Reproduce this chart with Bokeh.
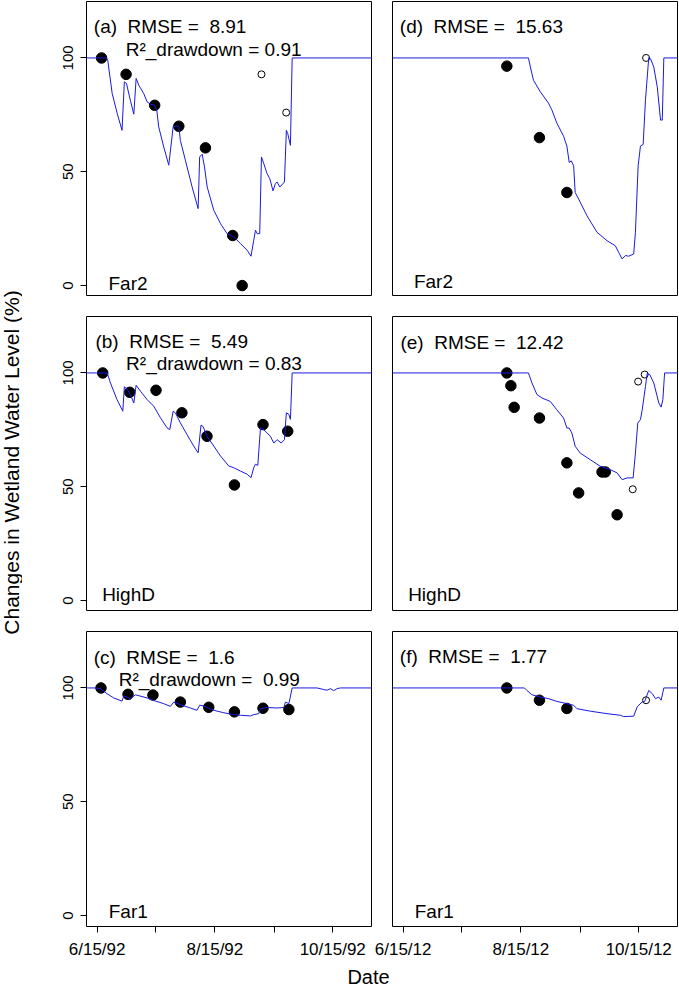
import math
from bokeh.plotting import figure
from bokeh.models import Range1d, FixedTicker, Label
from bokeh.layouts import column, row
from bokeh.embed import file_html
from bokeh.resources import INLINE

# x values: days since June 15 of the season year (1992 left column, 2012 right column)
tick_days = [0, 30, 61, 92, 122]
tick_labels_1992 = ["6/15/92", "", "8/15/92", "", "10/15/92"]
tick_labels_2012 = ["6/15/12", "", "8/15/12", "", "10/15/12"]
y_ticks = [0, 50, 100]

# ---- (a) Far2 1992
a_line_d = [-5.5, 4.8, 5.5, 7.8, 10.4, 12.9, 14.1, 15.2, 17.2, 19.0, 20.2, 21.6, 24.1, 25.9, 27.6, 29.8, 30.9,
            31.9, 34.5, 37.1, 39.4, 42.3, 43.1, 45.7, 49.2, 52.3, 53.1, 54.4, 55.6, 57.0, 60.4, 63.9, 67.3, 70.7,
            74.2, 77.7, 79.7, 81.1, 82.0, 82.9, 84.2, 85.1, 86.3, 88.0, 89.4, 91.1, 92.3, 93.2, 94.6, 97.0, 98.0,
            98.7, 100.1, 101.0, 142.6]
a_line_v = [100, 100, 99, 84.4, 75.6, 68.2, 89.5, 88.8, 81.4, 75.3, 91.0, 88.0, 84.4, 80.7, 79.7, 79.2, 77.0,
            69.7, 60.9, 52.9, 70.0, 70.0, 63.8, 55.1, 43.3, 33.8, 56.5, 57.7, 52.1, 43.3, 33.1, 27.2, 22.8, 21.4,
            18.5, 15.5, 12.9, 19.9, 24.3, 22.8, 22.8, 56.5, 53.6, 49.2, 47.0, 41.6, 44.8, 45.5, 43.3, 45.5, 68.2,
            66.8, 61.6, 100, 100]
a_obs_d = [2.3, 15.0, 29.8, 42.3, 56.1, 70.2, 75.1]
a_obs_v = [100, 92.8, 79.2, 70.0, 60.5, 22.0, 0]
a_open_d = [85.1, 97.9]
a_open_v = [92.8, 76.0]

# ---- (b) HighD 1992
b_line_d = [-5.5, 5.2, 6.9, 10.3, 13.3, 14.1, 15.5, 17.2, 19.0, 20.2, 22.4, 25.9, 29.3, 32.8, 36.2, 37.6, 39.4,
            40.5, 43.1, 46.5, 50.0, 52.3, 53.8, 54.9, 56.9, 60.4, 63.9, 68.2, 70.7, 74.2, 77.7, 79.7, 81.1, 82.0,
            83.2, 84.6, 86.3, 89.7, 91.5, 93.2, 95.3, 97.0, 98.0, 99.3, 100.1, 101.0, 142.6]
b_line_v = [100, 100, 95.6, 88.3, 83.2, 93.9, 93.0, 90.5, 86.8, 94.6, 92.0, 88.3, 85.4, 80.3, 75.9, 75.1, 83.2,
            82.5, 78.1, 73.0, 67.9, 64.9, 77.1, 76.4, 72.2, 67.9, 63.5, 59.1, 58.4, 56.9, 55.5, 54.0, 58.4, 59.9,
            59.4, 75.9, 75.1, 72.2, 69.2, 70.7, 69.2, 70.7, 82.5, 81.8, 79.6, 100, 100]
b_obs_d = [2.9, 16.9, 30.5, 43.9, 56.9, 71.1, 85.9, 98.7]
b_obs_v = [100, 91.5, 92.4, 82.5, 72.2, 50.8, 77.3, 74.4]
b_open_d = []
b_open_v = []

# ---- (c) Far1 1992
c_line_d = [-5.5, -0.9, 1.7, 5.1, 8.6, 12.9, 13.8, 15.2, 17.2, 19.8, 25.9, 29.3, 34.5, 37.9, 39.7, 43.9, 48.3,
            51.7, 53.1, 55.2, 60.4, 65.6, 70.7, 74.2, 79.4, 81.1, 83.7, 84.6, 88.0, 93.2, 96.7, 97.5, 99.3, 101.0,
            113.9, 117.4, 119.1, 120.8, 122.5, 124.3, 126.0, 142.6]
c_line_v = [100, 100, 99.7, 97.5, 95.6, 94.2, 96.5, 96.1, 95.1, 97.0, 95.6, 94.5, 93.1, 91.9, 93.8, 92.4, 91.2,
            90.2, 92.4, 92.1, 90.2, 89.1, 88.3, 88.0, 87.7, 88.3, 88.7, 90.9, 91.4, 91.2, 91.4, 93.8, 93.1, 100,
            100, 99.3, 99.0, 99.7, 98.8, 99.7, 100, 100]
c_obs_d = [2.0, 16.0, 28.9, 43.1, 57.8, 71.1, 85.9, 99.3]
c_obs_v = [100, 97.2, 96.9, 93.8, 91.5, 89.5, 91.1, 90.5]
c_open_d = []
c_open_v = []

# ---- (d) Far2 2012
d_line_d = [-5.5, 64.9, 65.9, 67.5, 71.0, 75.3, 77.0, 79.6, 83.1, 84.8, 86.0, 87.1, 88.3, 89.1, 90.9, 95.2, 100.4,
            105.6, 109.9, 111.6, 113.4, 115.1, 116.8, 119.4, 120.3, 121.7, 122.9, 124.3, 125.5, 127.2, 128.1,
            129.8, 131.6, 133.3, 134.2, 135.0, 142.6]
d_line_v = [100, 100, 96.0, 90.2, 85.2, 80.1, 77.2, 71.4, 65.6, 61.3, 54.1, 54.8, 52.6, 40.9, 38.0, 30.7, 23.4,
            19.7, 17.5, 14.6, 11.7, 13.2, 12.9, 13.9, 23.4, 52.6, 61.3, 62.0, 81.6, 100.1, 99.7, 96.0, 87.3, 72.7,
            72.7, 100, 100]
d_obs_d = [53.7, 70.6, 84.8]
d_obs_v = [96.4, 65.0, 40.9]
d_open_d = [125.8]
d_open_v = [100]

# ---- (e) HighD 2012
e_line_d = [-5.5, 64.9, 66.7, 69.3, 71.9, 76.2, 79.6, 83.1, 84.8, 86.0, 87.4, 89.1, 91.7, 96.9, 102.1, 107.3,
            110.8, 113.4, 116.0, 119.1, 120.3, 121.5, 122.9, 123.8, 125.5, 126.4, 127.7, 129.8, 132.4, 133.6,
            134.5, 135.4, 142.6]
e_line_v = [100, 100, 95.6, 90.5, 89.0, 87.5, 83.8, 80.2, 75.8, 75.8, 73.6, 67.8, 64.8, 61.9, 59.0, 57.5, 56.1,
            53.1, 53.9, 53.9, 64.8, 78.0, 79.5, 83.8, 94.1, 99.7, 99.3, 95.6, 86.8, 85.0, 88.3, 100, 100]
e_obs_d = [53.7, 55.8, 57.5, 70.6, 84.8, 90.9, 103.0, 104.7, 110.8]
e_obs_v = [100, 94.4, 84.9, 80.2, 60.5, 47.3, 56.5, 56.5, 37.7]
e_open_d = [118.9, 121.7, 125.1]
e_open_v = [48.9, 96.2, 99.3]

# ---- (f) Far1 2012
f_line_d = [-5.5, 62.8, 64.1, 66.7, 71.0, 75.3, 79.6, 84.8, 88.3, 90.0, 96.9, 105.6, 112.5, 114.2, 119.4, 121.2,
            123.8, 125.0, 127.2, 129.0, 130.7, 132.4, 133.6, 135.0, 142.6]
f_line_v = [100, 100, 98.9, 97.0, 96.0, 95.3, 94.1, 93.1, 92.4, 90.9, 89.8, 88.7, 88.0, 87.4, 87.6, 91.7, 93.9,
            93.9, 98.9, 97.5, 95.3, 96.0, 94.6, 100, 100]
f_obs_d = [53.7, 70.6, 84.8]
f_obs_v = [100, 94.6, 91.0]
f_open_d = [125.8]
f_open_v = [94.6]

# panel texts (a no-break space keeps R's double spacing visible)
NB = "\u00a0"
rmse_texts = ["(a)" + NB + " RMSE =" + NB + " 8.91", "(b)" + NB + " RMSE =" + NB + " 5.49",
              "(c)" + NB + " RMSE =" + NB + " 1.6", "(d)" + NB + " RMSE =" + NB + " 15.63",
              "(e)" + NB + " RMSE =" + NB + " 12.42", "(f)" + NB + " RMSE =" + NB + " 1.77"]
r2_texts = ["R\u00b2_drawdown = 0.91", "R\u00b2_drawdown = 0.83", "R\u00b2_drawdown =" + NB + " 0.99",
            None, None, None]
site_names = ["Far2", "HighD", "Far1", "Far2", "HighD", "Far1"]
y_title = "Changes in Wetland Water Level (%)"
x_title = "Date"

FONT = "Liberation Sans"
FW, FH = 286, 295
YLAB_W = 22
LEFT_BORDER = 64
GAP = 20
BOTTOM_BORDER = 34


def make_panel(idx, line_d, line_v, obs_d, obs_v, open_d, open_v, col, rw):
    left = col == 0
    bottom = rw == 2
    p = figure(frame_width=FW, frame_height=FH,
               x_range=Range1d(-5.5, 142.6), y_range=Range1d(-4.8, 124.8),
               output_backend="svg", toolbar_location=None,
               x_axis_location="below" if bottom else None,
               y_axis_location="left" if left else None,
               min_border_left=LEFT_BORDER if left else GAP,
               min_border_right=0,
               min_border_top=1 if rw == 0 else GAP,
               min_border_bottom=BOTTOM_BORDER if bottom else 0)
    p.xgrid.visible = False
    p.ygrid.visible = False
    p.outline_line_color = "black"
    p.outline_line_width = 1
    p.outline_line_alpha = 1.0
    p.background_fill_color = "white"
    p.border_fill_color = "white"

    if left:
        ax = p.yaxis[0]
        ax.ticker = FixedTicker(ticks=y_ticks)
        ax.major_label_orientation = "vertical"
        ax.major_label_text_font = FONT
        ax.major_label_text_font_size = "15px"
        ax.major_label_text_color = "black"
        ax.major_label_standoff = 7
        ax.major_tick_in = 0
        ax.major_tick_out = 6
        ax.major_tick_line_color = "black"
        ax.minor_tick_line_color = None
        ax.axis_line_color = None
    if bottom:
        ax = p.xaxis[0]
        ax.ticker = FixedTicker(ticks=tick_days)
        labels = tick_labels_1992 if left else tick_labels_2012
        ax.major_label_overrides = {d: lab for d, lab in zip(tick_days, labels)}
        ax.major_label_text_font = FONT
        ax.major_label_text_font_size = "17px"
        ax.major_label_text_color = "black"
        ax.major_label_standoff = 7
        ax.major_tick_in = 0
        ax.major_tick_out = 6
        ax.major_tick_line_color = "black"
        ax.minor_tick_line_color = None
        ax.axis_line_color = None

    p.scatter(obs_d, obs_v, size=10.5, marker="circle", fill_color="black", line_color="black")
    if open_d:
        p.scatter(open_d, open_v, size=7, marker="circle", fill_color=None, line_color="black", line_width=1)
    p.line(line_d, line_v, line_color="#1a1ae0", line_width=1)

    # annotation texts (a)..(f)
    rmse_pos = [(-1.7, 113.6), (-0.9, 113.9), (-1.8, 113.2), (-1.7, 113.9), (-1.4, 113.4), (-1.7, 113.6)]
    r2_pos = [(14.8, 103.7), (15.0, 104.1), (11.2, 103.6), None, None, None]
    site_pos = [(5.9, 1.0), (2.6, 2.6), (6.0, 1.6), (5.6, 1.6), (2.6, 2.6), (6.0, 1.9)]
    items = [(rmse_texts[idx], rmse_pos[idx]), (r2_texts[idx], r2_pos[idx]), (site_names[idx], site_pos[idx])]
    for txt, pos in items:
        if txt is None:
            continue
        p.add_layout(Label(x=pos[0], y=pos[1], text=txt, text_font=FONT, text_font_size="19px",
                           text_color="black", text_baseline="alphabetic", text_align="left"))
    return p


pa = make_panel(0, a_line_d, a_line_v, a_obs_d, a_obs_v, a_open_d, a_open_v, 0, 0)
pb = make_panel(1, b_line_d, b_line_v, b_obs_d, b_obs_v, b_open_d, b_open_v, 0, 1)
pc = make_panel(2, c_line_d, c_line_v, c_obs_d, c_obs_v, c_open_d, c_open_v, 0, 2)
pd_ = make_panel(3, d_line_d, d_line_v, d_obs_d, d_obs_v, d_open_d, d_open_v, 1, 0)
pe = make_panel(4, e_line_d, e_line_v, e_obs_d, e_obs_v, e_open_d, e_open_v, 1, 1)
pf = make_panel(5, f_line_d, f_line_v, f_obs_d, f_obs_v, f_open_d, f_open_v, 1, 2)


def blank_fig(w, h):
    f = figure(width=w, height=h, x_range=Range1d(0, w), y_range=Range1d(0, h),
               output_backend="svg", toolbar_location=None,
               x_axis_location=None, y_axis_location=None,
               min_border_left=0, min_border_right=0, min_border_top=0, min_border_bottom=0)
    f.xgrid.visible = False
    f.ygrid.visible = False
    f.outline_line_color = None
    f.background_fill_color = "white"
    f.border_fill_color = "white"
    return f


GRID_W = LEFT_BORDER + FW + GAP + FW
ROWS_H = (1 + FH) + (GAP + FH) + (GAP + FH + BOTTOM_BORDER)
DATE_H = 26

# shared x-axis title, centred under both columns
date_fig = blank_fig(GRID_W, DATE_H)
date_fig.add_layout(Label(x=(LEFT_BORDER + GRID_W) / 2 - 14, y=11, text=x_title, text_font=FONT,
                          text_font_size="20px", text_color="black", text_align="center",
                          text_baseline="middle"))

# shared y-axis title, spanning all three rows
ylab_fig = blank_fig(YLAB_W, ROWS_H)
ylab_fig.add_layout(Label(x=YLAB_W / 2, y=ROWS_H - 462, text=y_title, text_font=FONT,
                          text_font_size="21px", text_color="black", text_align="center",
                          text_baseline="middle", angle=math.pi / 2))

grid = column(row(pa, pd_), row(pb, pe), row(pc, pf), date_fig)
layout = row(ylab_fig, grid)

with open("out.html", "w") as fh:
    fh.write(file_html(layout, INLINE))
